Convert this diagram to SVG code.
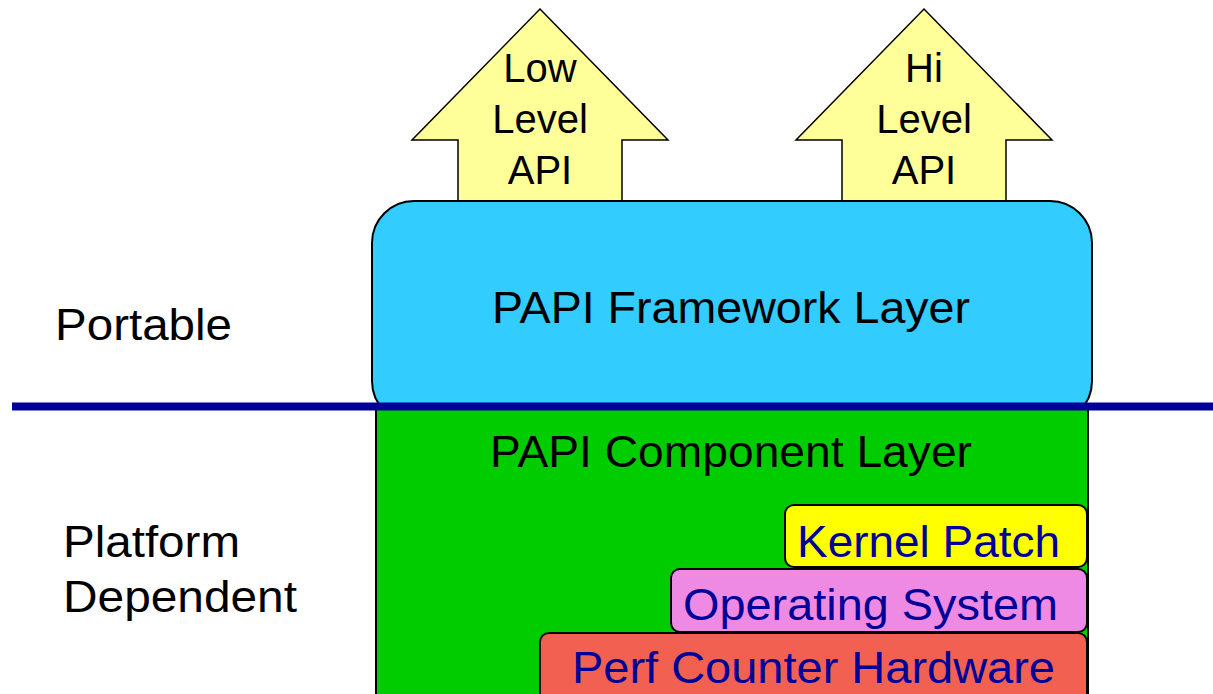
<svg xmlns="http://www.w3.org/2000/svg" width="1213" height="694" viewBox="0 0 1213 694">
<style>
.lbl{font-family:"Liberation Sans",Arial,sans-serif;fill:#000}
.arr{fill:#FFFF99;stroke:#000;stroke-width:1.5}
.big{font-size:45px}
.sm{font-size:40px}
.inner{fill:#000099;font-size:45px}
.box{stroke:#000;stroke-width:2}
</style>
<rect width="1213" height="694" fill="#fff"/>
<g id="arrow-low">
<polygon class="arr" points="540,9 668,140 622,140 622,215 458,215 458,140 412,140"/>
<text class="lbl sm" x="540" y="82" text-anchor="middle">Low</text>
<text class="lbl sm" x="540" y="133" text-anchor="middle">Level</text>
<text class="lbl sm" x="540" y="184" text-anchor="middle">API</text>
</g>
<g id="arrow-hi">
<polygon class="arr" points="924,9 1052,140 1006,140 1006,215 842,215 842,140 796,140"/>
<text class="lbl sm" x="924" y="82" text-anchor="middle">Hi</text>
<text class="lbl sm" x="924" y="133" text-anchor="middle">Level</text>
<text class="lbl sm" x="924" y="184" text-anchor="middle">API</text>
</g>
<g id="framework">
<rect class="box" x="372" y="201" width="720" height="222" rx="42" ry="42" fill="#33CCFF"/>
<text class="lbl big" x="731" y="323" text-anchor="middle" textLength="478" lengthAdjust="spacingAndGlyphs">PAPI Framework Layer</text>
</g>
<g id="component">
<rect x="376" y="406" width="712" height="300" fill="#00CC00" stroke="#000" stroke-width="2"/>
<text class="lbl big" x="731" y="467" text-anchor="middle" textLength="482" lengthAdjust="spacingAndGlyphs">PAPI Component Layer</text>
</g>
<g id="divider">
<line x1="12" y1="406.5" x2="1213" y2="406.5" stroke="#000099" stroke-width="8"/>
</g>
<g id="portable">
<text class="lbl big" x="55" y="340" textLength="177" lengthAdjust="spacingAndGlyphs">Portable</text>
</g>
<g id="platform">
<text class="lbl big" x="63" y="557" textLength="177" lengthAdjust="spacingAndGlyphs">Platform</text>
<text class="lbl big" x="63" y="612" textLength="234" lengthAdjust="spacingAndGlyphs">Dependent</text>
</g>
<g id="perf">
<rect class="box" x="540" y="633" width="547" height="80" rx="9" fill="#F26052"/>
<text class="lbl inner" x="572" y="683" textLength="483" lengthAdjust="spacingAndGlyphs">Perf Counter Hardware</text>
</g>
<g id="os">
<rect class="box" x="671" y="569" width="416" height="63" rx="9" fill="#EE8AE4"/>
<text class="lbl inner" x="683" y="620" textLength="375" lengthAdjust="spacingAndGlyphs">Operating System</text>
</g>
<g id="kernel">
<rect class="box" x="785" y="505" width="302" height="62" rx="9" fill="#FFFF00"/>
<text class="lbl inner" x="797" y="557" textLength="263" lengthAdjust="spacingAndGlyphs">Kernel Patch</text>
</g>
</svg>
